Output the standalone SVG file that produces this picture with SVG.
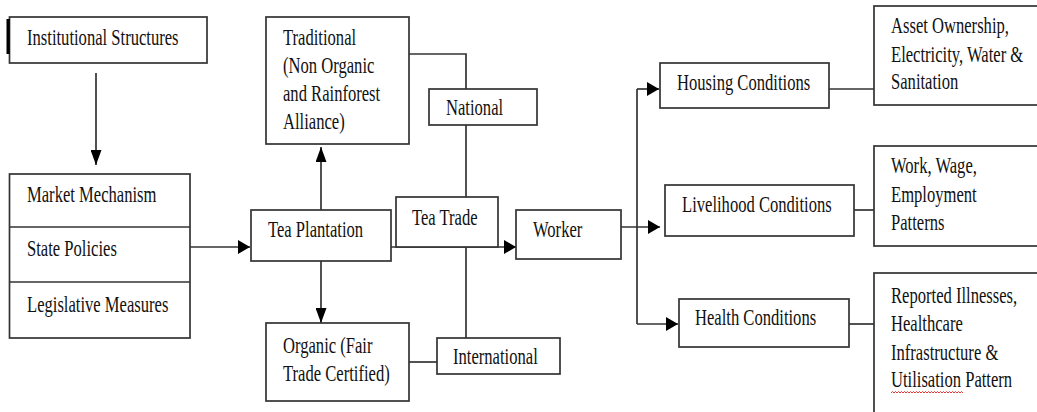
<svg xmlns="http://www.w3.org/2000/svg" width="1037" height="412" viewBox="0 0 1037 412">
  <style>
    .box { fill: #ffffff; stroke: #333333; stroke-width: 1.7; }
    .wire { fill: none; stroke: #333333; stroke-width: 1.7; }
    .lbl { font-family: "Liberation Serif", "Times New Roman", serif; font-size: 16.6px; fill: #111111; }
  </style>
  <defs>
    <!-- arrowheads: the horizontal and vertical ones differ slightly in proportion -->
    <marker id="ah" markerUnits="userSpaceOnUse" markerWidth="12" markerHeight="14" refX="12" refY="7" orient="auto">
      <path d="M0,0 L12,7 L0,14 z" fill="#000000"/>
    </marker>
    <marker id="av" markerUnits="userSpaceOnUse" markerWidth="15" markerHeight="11" refX="15" refY="5.5" orient="auto">
      <path d="M0,0 L15,5.5 L0,11 z" fill="#000000"/>
    </marker>
  </defs>

  <rect width="1037" height="412" fill="#ffffff"/>

  <!-- connectors -->
  <g id="connectors">
    <line class="wire" x1="96" y1="73" x2="96" y2="165" marker-end="url(#av)"/>
    <line class="wire" x1="190" y1="247" x2="250" y2="247" marker-end="url(#ah)"/>
    <line class="wire" x1="321" y1="210" x2="321" y2="147" marker-end="url(#av)"/>
    <line class="wire" x1="321" y1="261" x2="321" y2="323" marker-end="url(#av)"/>
    <line class="wire" x1="391" y1="247" x2="516" y2="247" marker-end="url(#ah)"/>
    <polyline class="wire" points="409,54 466,54 466,89"/>
    <line class="wire" x1="466" y1="125" x2="466" y2="197"/>
    <line class="wire" x1="466" y1="247" x2="466" y2="338"/>
    <line class="wire" x1="409" y1="362" x2="437" y2="362"/>
    <line class="wire" x1="621" y1="227" x2="660" y2="227" marker-end="url(#ah)"/>
    <line class="wire" x1="637" y1="89" x2="637" y2="324"/>
    <line class="wire" x1="637" y1="89" x2="659" y2="89" marker-end="url(#ah)"/>
    <line class="wire" x1="637" y1="324" x2="678" y2="324" marker-end="url(#ah)"/>
    <line class="wire" x1="829" y1="89" x2="874" y2="89"/>
    <line class="wire" x1="854" y1="210" x2="874" y2="210"/>
    <line class="wire" x1="849" y1="324" x2="874" y2="324"/>
  </g>

  <!-- nodes -->
  <g id="institutional-structures">
    <rect class="box" x="9.5" y="17" width="197.5" height="46"/>
    <rect x="6.5" y="19" width="3.2" height="35" fill="#000000"/>
    <text class="lbl" transform="translate(27,45) scale(1,1.33)">Institutional Structures</text>
  </g>

  <g id="state-framework">
    <rect class="box" x="9.5" y="174" width="180.5" height="164"/>
    <line class="wire" x1="9.5" y1="227" x2="190" y2="227"/>
    <line class="wire" x1="9.5" y1="282" x2="190" y2="282"/>
    <text class="lbl" transform="translate(27,202) scale(1,1.33)">Market Mechanism</text>
    <text class="lbl" transform="translate(27,256) scale(1,1.33)">State Policies</text>
    <text class="lbl" transform="translate(27,312) scale(1,1.33)">Legislative Measures</text>
  </g>

  <g id="tea-plantation">
    <rect class="box" x="251" y="210" width="140" height="51"/>
    <text class="lbl" transform="translate(268,237) scale(1,1.33)">Tea Plantation</text>
  </g>

  <g id="traditional">
    <rect class="box" x="266" y="17" width="143" height="127"/>
    <text class="lbl" transform="translate(283,45) scale(1,1.33)">
      <tspan x="0" y="0">Traditional</tspan>
      <tspan x="0" y="20.8">(Non Organic</tspan>
      <tspan x="0" y="41.8">and Rainforest</tspan>
      <tspan x="0" y="62.8">Alliance)</tspan>
    </text>
  </g>

  <g id="organic">
    <rect class="box" x="266" y="323" width="143" height="78"/>
    <text class="lbl" transform="translate(283,353) scale(1,1.33)">
      <tspan x="0" y="0">Organic (Fair</tspan>
      <tspan x="0" y="21">Trade Certified)</tspan>
    </text>
  </g>

  <g id="national">
    <rect class="box" x="429" y="89" width="108" height="36"/>
    <text class="lbl" transform="translate(446,115) scale(1,1.33)">National</text>
  </g>

  <g id="tea-trade">
    <rect class="box" x="396" y="197" width="102" height="50"/>
    <text class="lbl" transform="translate(412,225) scale(1,1.33)">Tea Trade</text>
  </g>

  <g id="international">
    <rect class="box" x="437" y="338" width="123" height="36"/>
    <text class="lbl" transform="translate(453,364) scale(1,1.33)">International</text>
  </g>

  <g id="worker">
    <rect class="box" x="516" y="210" width="105" height="49"/>
    <text class="lbl" transform="translate(533,237) scale(1,1.33)">Worker</text>
  </g>

  <g id="housing-conditions">
    <rect class="box" x="660" y="63" width="169" height="45"/>
    <text class="lbl" transform="translate(677,90) scale(1,1.33)">Housing Conditions</text>
  </g>

  <g id="livelihood-conditions">
    <rect class="box" x="665" y="185" width="189" height="51"/>
    <text class="lbl" transform="translate(682,212) scale(1,1.33)">Livelihood Conditions</text>
  </g>

  <g id="health-conditions">
    <rect class="box" x="679" y="299" width="170" height="48"/>
    <text class="lbl" transform="translate(695,325) scale(1,1.33)">Health Conditions</text>
  </g>

  <g id="housing-indicators">
    <rect class="box" x="874" y="6" width="175" height="99"/>
    <text class="lbl" transform="translate(891,33) scale(1,1.33)">
      <tspan x="0" y="0">Asset Ownership,</tspan>
      <tspan x="0" y="21.5">Electricity, Water &amp;</tspan>
      <tspan x="0" y="42">Sanitation</tspan>
    </text>
  </g>

  <g id="livelihood-indicators">
    <rect class="box" x="874" y="146" width="175" height="100"/>
    <text class="lbl" transform="translate(891,173) scale(1,1.33)">
      <tspan x="0" y="0">Work, Wage,</tspan>
      <tspan x="0" y="21.6">Employment</tspan>
      <tspan x="0" y="42.8">Patterns</tspan>
    </text>
  </g>

  <g id="health-indicators">
    <rect class="box" x="874" y="273" width="175" height="150"/>
    <text class="lbl" transform="translate(891,303) scale(1,1.33)">
      <tspan x="0" y="0">Reported Illnesses,</tspan>
      <tspan x="0" y="21">Healthcare</tspan>
      <tspan x="0" y="42.8">Infrastructure &amp;</tspan>
      <tspan x="0" y="63.2">Utilisation Pattern</tspan>
    </text>
    <!-- spell-check squiggle under the first word of the last line -->
    <path d="M891,393 l1.5,-1.5 l1.5,1.5 l1.5,-1.5 l1.5,1.5 l1.5,-1.5 l1.5,1.5 l1.5,-1.5 l1.5,1.5 l1.5,-1.5 l1.5,1.5 l1.5,-1.5 l1.5,1.5 l1.5,-1.5 l1.5,1.5 l1.5,-1.5 l1.5,1.5 l1.5,-1.5 l1.5,1.5 l1.5,-1.5 l1.5,1.5 l1.5,-1.5 l1.5,1.5 l1.5,-1.5 l1.5,1.5 l1.5,-1.5 l1.5,1.5 l1.5,-1.5 l1.5,1.5 l1.5,-1.5 l1.5,1.5 l1.5,-1.5 l1.5,1.5 l1.5,-1.5 l1.5,1.5 l1.5,-1.5 l1.5,1.5 l1.5,-1.5 l1.5,1.5 l1.5,-1.5 l1.5,1.5 l1.5,-1.5 l1.5,1.5 l1.5,-1.5 l1.5,1.5 l1.5,-1.5 l1.5,1.5 l1.5,-1.5 l1.5,1.5" fill="none" stroke="#e02020" stroke-width="0.9"/>
  </g>
</svg>
